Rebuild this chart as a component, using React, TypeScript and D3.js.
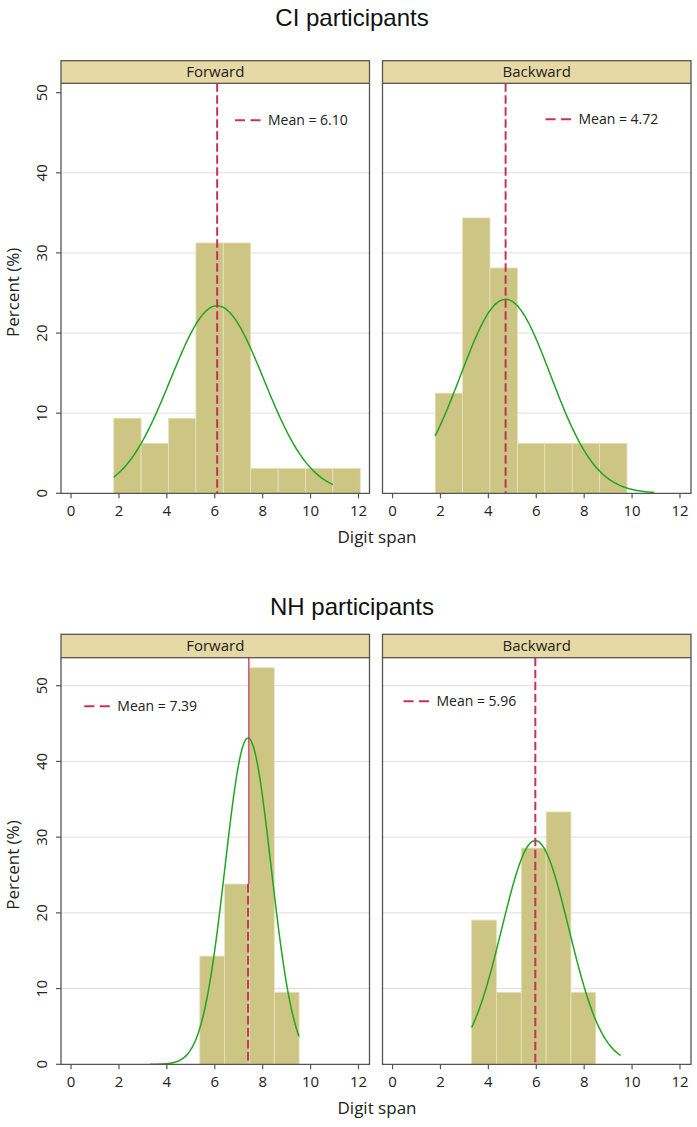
import React from "react";
import * as d3 from "d3";

// ---------- data ----------
const groupTitles = ["CI participants", "NH participants"];
const panelNames = ["Forward", "Backward"];
const xTicks = [0, 2, 4, 6, 8, 10, 12];
const yTicks = [0, 10, 20, 30, 40, 50];

// histogram bins (percent of participants)
const ciBinStart = [1.78, 1.78];
const ciBinWidth = 1.144;
const ciForwardPct = [9.375, 6.25, 9.375, 31.25, 31.25, 3.125, 3.125, 3.125, 3.125];
const ciBackwardPct = [12.5, 34.375, 28.125, 6.25, 6.25, 6.25, 6.25];

const nhBinStart = [5.374, 3.3];
const nhBinWidth = 1.037;
const nhForwardPct = [14.29, 23.81, 52.38, 9.52];
const nhBackwardPct = [19.05, 9.52, 28.57, 33.33, 9.52];

// normal overlays
const ciMeans = [6.1, 4.72];
const ciSDs = [1.95, 1.885];
const ciCurveRange = [1.78, 10.93];
const nhMeans = [7.39, 5.96];
const nhSDs = [0.96, 1.4];
const nhCurveRange = [3.3, 9.52];

// ---------- layout ----------
const W = 697;
const H = 1127;
const panelX = [
  [61, 369.5],
  [382.5, 691],
];
const xDomain = [-0.42, 12.46];

const rows = [
  {
    title: groupTitles[0],
    titleY: 26,
    stripTop: 60.7,
    plotTop: 83.3,
    plotBottom: 493.3,
    yMax: 51.17,
    grid: [10, 20, 30, 40],
    binStart: ciBinStart,
    binWidth: ciBinWidth,
    pct: [ciForwardPct, ciBackwardPct],
    means: ciMeans,
    sds: ciSDs,
    curveRange: ciCurveRange,
    solidMeanTo: [null, null] as (number | null)[],
    legend: [
      { dx: 174, dy: 37 },
      { dx: 163, dy: 36 },
    ],
  },
  {
    title: groupTitles[1],
    titleY: 615,
    stripTop: 634.3,
    plotTop: 657.7,
    plotBottom: 1064.3,
    yMax: 53.7,
    grid: [10, 20, 30, 40, 50],
    binStart: nhBinStart,
    binWidth: nhBinWidth,
    pct: [nhForwardPct, nhBackwardPct],
    means: nhMeans,
    sds: nhSDs,
    curveRange: nhCurveRange,
    solidMeanTo: [nhForwardPct[1], null] as (number | null)[],
    legend: [
      { dx: 23.3, dy: 48.5 },
      { dx: 21, dy: 43.5 },
    ],
  },
];

const FONT = "'Open Sans', 'Noto Sans', sans-serif";
const BAR_FILL = "#cdc584";
const BAR_EDGE = "#e7e2be";
const STRIP_FILL = "#e6d9a5";
const FRAME = "#555555";
const GRID = "#dedede";
const MEAN_COL = "#c8325a";
const CURVE_COL = "#22a522";

function normalPct(x: number, mu: number, sd: number, bw: number) {
  return (100 * bw * Math.exp(-0.5 * ((x - mu) / sd) ** 2)) / (sd * Math.sqrt(2 * Math.PI));
}

function Panel({ row, col }: { row: (typeof rows)[number]; col: number }) {
  const [x0, x1] = panelX[col];
  const x = d3.scaleLinear().domain(xDomain).range([x0, x1]);
  const y = d3.scaleLinear().domain([0, row.yMax]).range([row.plotBottom, row.plotTop]);
  const pct = row.pct[col];
  const start = row.binStart[col];
  const bw = row.binWidth;
  const mu = row.means[col];
  const sd = row.sds[col];
  const xs = d3.range(row.curveRange[0], row.curveRange[1] + 1e-9, (row.curveRange[1] - row.curveRange[0]) / 200);
  const line = d3
    .line<number>()
    .x((d) => x(d))
    .y((d) => y(normalPct(d, mu, sd, bw)))
    .curve(d3.curveBasis);
  const lg = row.legend[col];
  const lx = x0 + lg.dx;
  const ly = row.plotTop + lg.dy;
  const solidTo = row.solidMeanTo[col];
  const dashTop = solidTo == null ? row.plotTop : y(solidTo);
  return (
    <g>
      {/* grid */}
      {row.grid.map((v) => (
        <line key={"g" + v} x1={x0} x2={x1} y1={y(v)} y2={y(v)} stroke={GRID} strokeWidth={1} />
      ))}
      {/* bars */}
      {pct.map((p, i) => {
        const a = x(start + i * bw);
        const b = x(start + (i + 1) * bw);
        return (
          <rect
            key={"b" + i}
            x={a}
            y={y(p)}
            width={b - a}
            height={y(0) - y(p)}
            fill={BAR_FILL}
            stroke={BAR_EDGE}
            strokeWidth={0.8}
          />
        );
      })}
      {/* normal curve */}
      <path d={line(xs) || ""} fill="none" stroke={CURVE_COL} strokeWidth={1.5} />
      {/* mean line */}
      {solidTo != null && (
        <line
          x1={x(mu) + 0.8}
          x2={x(mu) + 0.8}
          y1={row.plotTop}
          y2={y(solidTo)}
          stroke={MEAN_COL}
          strokeWidth={1.3}
        />
      )}
      <line
        x1={x(mu)}
        x2={x(mu)}
        y1={dashTop}
        y2={row.plotBottom}
        stroke={MEAN_COL}
        strokeWidth={2}
        strokeDasharray="8.5,3.5"
      />
      {/* legend */}
      <line x1={lx} x2={lx + 26} y1={ly} y2={ly} stroke={MEAN_COL} strokeWidth={2} strokeDasharray="10,5.5" />
      <text x={lx + 33} y={ly} dy="0.35em" fontFamily={FONT} fontSize={14} fill="#222">
        {`Mean = ${mu.toFixed(2)}`}
      </text>
      {/* frame */}
      <path
        d={`M${x0},${row.plotTop}V${row.plotBottom}H${x1}V${row.plotTop}`}
        fill="none"
        stroke={FRAME}
        strokeWidth={1.3}
      />
      {/* strip */}
      <rect
        x={x0}
        y={row.stripTop}
        width={x1 - x0}
        height={row.plotTop - row.stripTop}
        fill={STRIP_FILL}
        stroke={FRAME}
        strokeWidth={1.3}
      />
      <text
        x={(x0 + x1) / 2}
        y={(row.stripTop + row.plotTop) / 2}
        dy="0.36em"
        textAnchor="middle"
        fontFamily={FONT}
        fontSize={15}
        fill="#222"
      >
        {panelNames[col]}
      </text>
      {/* x ticks */}
      {xTicks.map((t) => (
        <g key={"xt" + t}>
          <line x1={x(t)} x2={x(t)} y1={row.plotBottom} y2={row.plotBottom + 5} stroke={FRAME} strokeWidth={1.2} />
          <text
            x={x(t)}
            y={row.plotBottom + 17}
            dy="0.35em"
            textAnchor="middle"
            fontFamily={FONT}
            fontSize={15}
            fill="#222"
          >
            {t}
          </text>
        </g>
      ))}
      {/* y ticks (left panel only) */}
      {col === 0 &&
        yTicks.map((t) => (
          <g key={"yt" + t}>
            <line x1={x0 - 5} x2={x0} y1={y(t)} y2={y(t)} stroke={FRAME} strokeWidth={1.2} />
            <text
              transform={`translate(${x0 - 19},${y(t)}) rotate(-90)`}
              dy="0.35em"
              textAnchor="middle"
              fontFamily={FONT}
              fontSize={15}
              fill="#222"
            >
              {t}
            </text>
          </g>
        ))}
    </g>
  );
}

export default function App() {
  return (
    <svg
      width={W}
      height={H}
      viewBox={`0 0 ${W} ${H}`}
      style={{ position: "absolute", left: 0, top: 0, background: "#fff" }}
    >
      <rect width={W} height={H} fill="#fff" />
      {rows.map((row, ri) => (
        <g key={ri}>
          <text
            x={352}
            y={row.titleY}
            textAnchor="middle"
            fontFamily="'Liberation Sans', Arial, sans-serif"
            fontSize={24}
            fill="#111"
          >
            {row.title}
          </text>
          <Panel row={row} col={0} />
          <Panel row={row} col={1} />
          <text
            transform={`translate(13,${(row.plotTop + row.plotBottom) / 2 + 4}) rotate(-90)`}
            dy="0.35em"
            textAnchor="middle"
            fontFamily={FONT}
            fontSize={17}
            fill="#222"
          >
            Percent (%)
          </text>
          <text
            x={377}
            y={row.plotBottom + 44}
            dy="0.35em"
            textAnchor="middle"
            fontFamily={FONT}
            fontSize={17}
            fill="#222"
          >
            Digit span
          </text>
        </g>
      ))}
    </svg>
  );
}
